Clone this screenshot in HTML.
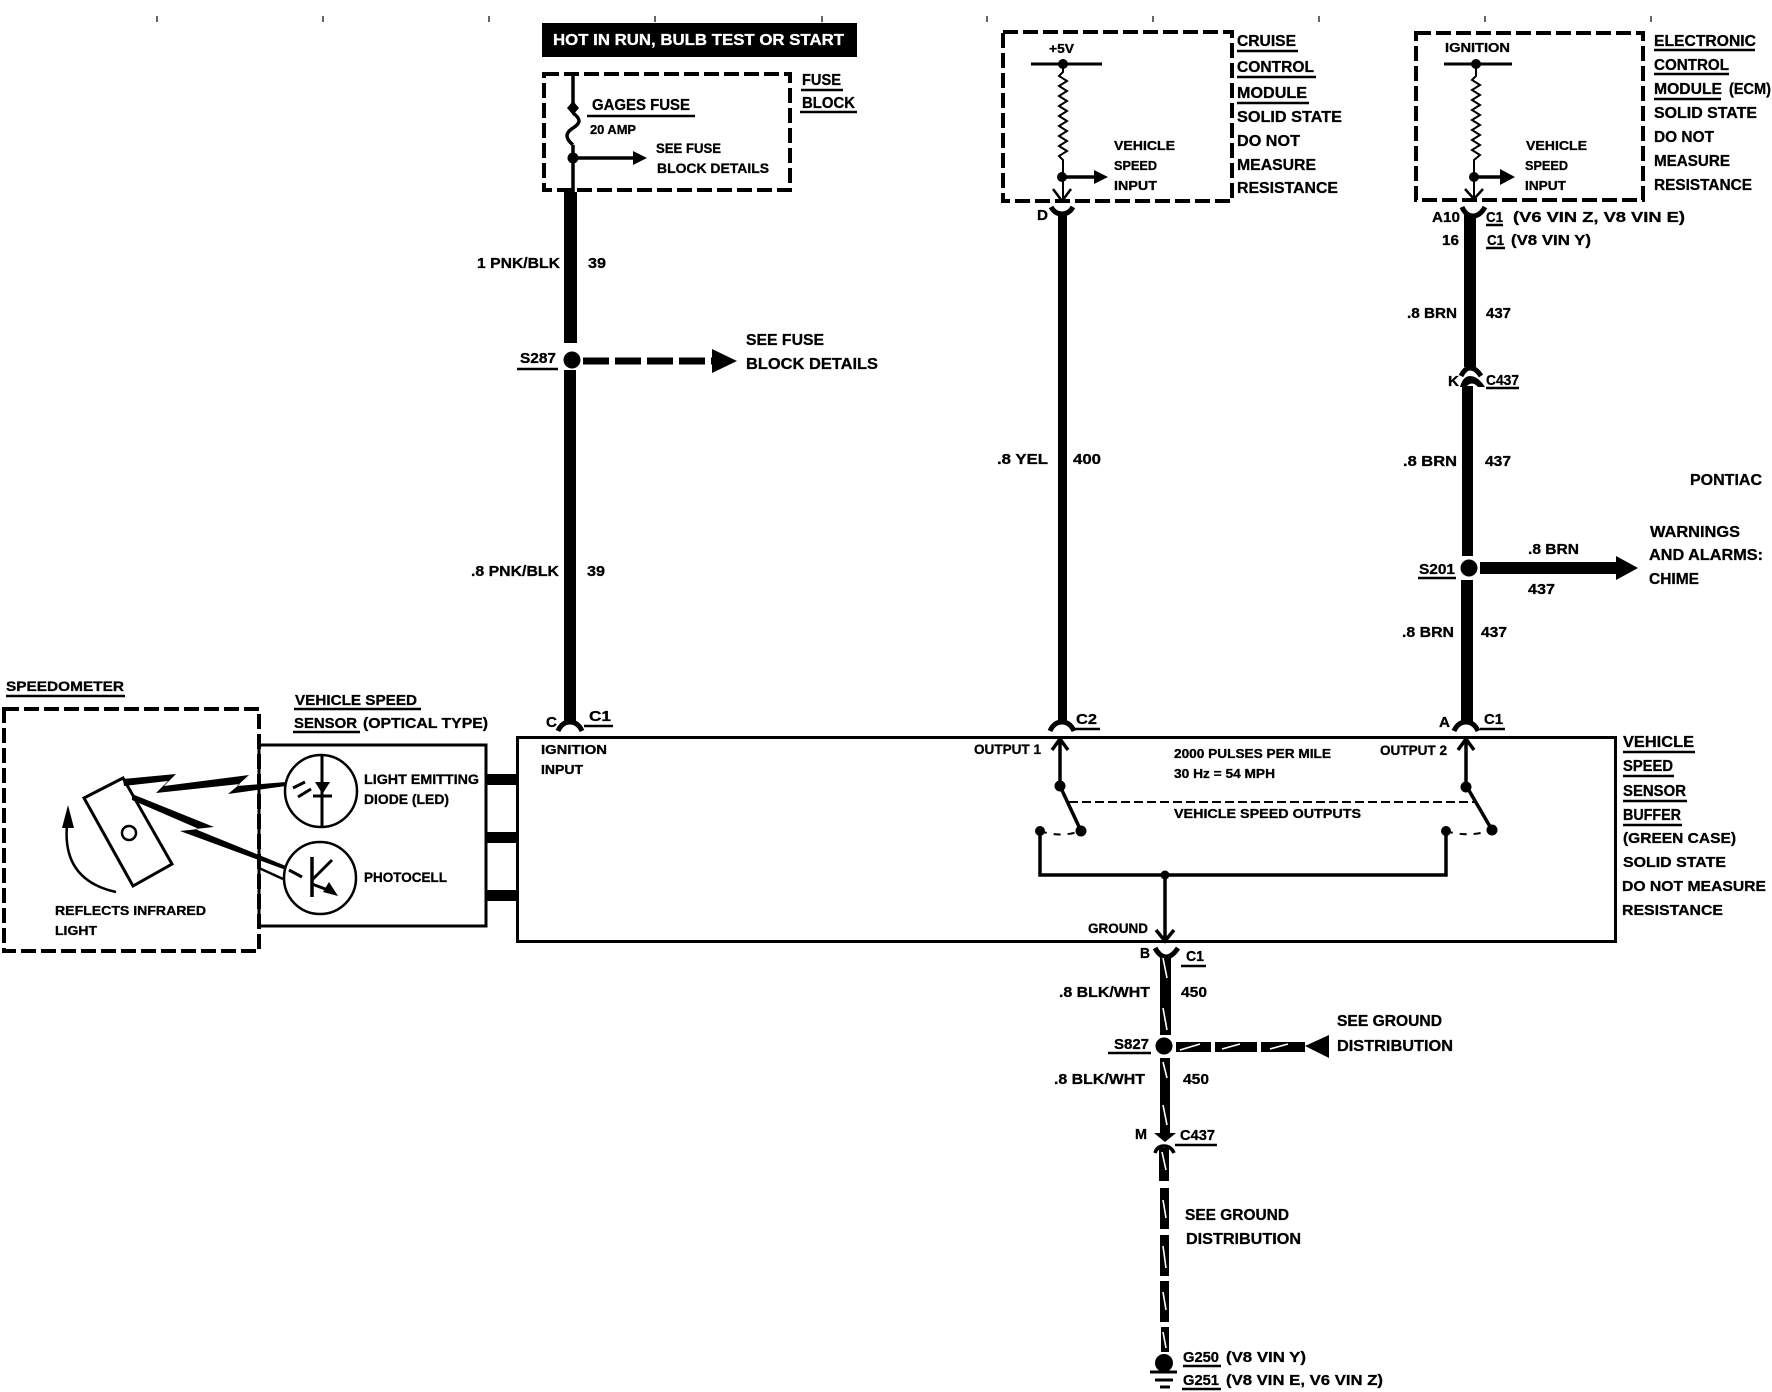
<!DOCTYPE html>
<html><head><meta charset="utf-8"><title>Vehicle Speed Sensor Diagram</title>
<style>
html,body{margin:0;padding:0;background:#fff}
svg{display:block}
text{font-family:"Liberation Sans",sans-serif;font-weight:bold;font-size:15px;fill:#000;stroke:#000;stroke-width:.3}
.s{font-size:14px}.t{font-size:13px}.l{font-size:16px}
.n{fill:none;stroke:#000;stroke-width:3.5}
.d{fill:none;stroke:#000;stroke-width:4;stroke-dasharray:15 5}
.u{stroke:#000;stroke-width:2.5}
.w{stroke:#fff;stroke-width:1.6}
.c{fill:none;stroke:#000;stroke-width:5}
</style></head><body>
<svg width="1772" height="1392" viewBox="0 0 1772 1392" xmlns="http://www.w3.org/2000/svg">
<rect width="1772" height="1392" fill="#fff"/>
<!-- ticks -->
<g stroke="#000" stroke-width="1.2"><path d="M157 16v6M323 16v6M489 16v6M655 16v6M822 16v6M987 16v6M1153 16v6M1319 16v6M1485 16v6M1651 16v6"/></g>

<!-- hot bar -->
<rect x="542" y="23" width="315" height="34" fill="#000"/>
<text x="553" y="45" textLength="291" lengthAdjust="spacingAndGlyphs" style="fill:#fff;stroke:#fff;font-size:16px">HOT IN RUN, BULB TEST OR START</text>

<!-- fuse block -->
<rect class="d" x="544" y="74" width="246" height="116"/>
<path class="n" d="M573 75V106M573 145V192"/>
<path d="M573 101l6 7-6 7-6-7z"/>
<path class="n" d="M573 113c8 6 8 10 0 15s-8 10 0 17" stroke-width="2.5"/>
<circle cx="573" cy="158" r="5.5"/>
<path class="n" d="M573 158H635"/><path d="M633 151l14 7-14 7z"/>
<text class="l" x="592" y="110" textLength="98" lengthAdjust="spacingAndGlyphs">GAGES FUSE</text>
<line class="u" x1="587" y1="116" x2="695" y2="116"/>
<text class="t" x="590" y="134" textLength="46" lengthAdjust="spacingAndGlyphs">20 AMP</text>
<text class="s" x="656" y="153" textLength="65" lengthAdjust="spacingAndGlyphs">SEE FUSE</text>
<text class="s" x="657" y="173" textLength="112" lengthAdjust="spacingAndGlyphs">BLOCK DETAILS</text>
<text class="l" x="802" y="85" textLength="39" lengthAdjust="spacingAndGlyphs">FUSE</text>
<line class="u" x1="801" y1="90" x2="843" y2="90"/>
<text class="l" x="802" y="108" textLength="53" lengthAdjust="spacingAndGlyphs">BLOCK</text>
<line class="u" x1="800" y1="112" x2="857" y2="112"/>

<!-- left wire -->
<rect x="564" y="192" width="13" height="151"/>
<rect x="564" y="370" width="12" height="353"/>
<circle cx="572" cy="360" r="8.5"/>
<text x="477" y="268" textLength="83" lengthAdjust="spacingAndGlyphs">1 PNK/BLK</text>
<text x="588" y="268" textLength="18" lengthAdjust="spacingAndGlyphs">39</text>
<text x="520" y="363" textLength="36" lengthAdjust="spacingAndGlyphs">S287</text>
<line class="u" x1="517" y1="369" x2="558" y2="369"/>
<path d="M583 361H712" stroke="#000" stroke-width="7" stroke-dasharray="26 6" fill="none"/>
<path d="M712 349l25 12-25 12z"/>
<text class="l" x="746" y="345" textLength="78" lengthAdjust="spacingAndGlyphs">SEE FUSE</text>
<text class="l" x="746" y="369" textLength="132" lengthAdjust="spacingAndGlyphs">BLOCK DETAILS</text>
<text x="471" y="576" textLength="88" lengthAdjust="spacingAndGlyphs">.8 PNK/BLK</text>
<text x="587" y="576" textLength="18" lengthAdjust="spacingAndGlyphs">39</text>
<text x="546" y="727" textLength="11" lengthAdjust="spacingAndGlyphs">C</text>
<text x="589" y="721" textLength="22" lengthAdjust="spacingAndGlyphs">C1</text>
<line class="u" x1="584" y1="726" x2="613" y2="726"/>
<path class="c" d="M558 731Q562 722 570 722Q578 722 582 731"/>

<!-- big box -->
<rect x="517.5" y="737.5" width="1098" height="204" fill="none" stroke="#000" stroke-width="3"/>
<text class="t" x="541" y="754" textLength="66" lengthAdjust="spacingAndGlyphs">IGNITION</text>
<text class="t" x="541" y="774" textLength="42" lengthAdjust="spacingAndGlyphs">INPUT</text>

<!-- sensor box -->
<rect x="259" y="745" width="227" height="181" fill="none" stroke="#000" stroke-width="3"/>
<rect x="486" y="774" width="31" height="11"/>
<rect x="486" y="832" width="31" height="11"/>
<rect x="486" y="890" width="31" height="11"/>
<text x="295" y="705" textLength="122" lengthAdjust="spacingAndGlyphs">VEHICLE SPEED</text>
<line class="u" x1="294" y1="709" x2="421" y2="709"/>
<text x="294" y="728" textLength="63" lengthAdjust="spacingAndGlyphs">SENSOR</text>
<line class="u" x1="293" y1="732" x2="360" y2="732"/>
<text x="363" y="728" textLength="125" lengthAdjust="spacingAndGlyphs">(OPTICAL TYPE)</text>
<circle cx="321" cy="791" r="36" fill="#fff" stroke="#000" stroke-width="2.5"/>
<circle cx="320" cy="878" r="36" fill="#fff" stroke="#000" stroke-width="2.5"/>
<path d="M322 756V826" stroke="#000" stroke-width="3"/>
<path d="M315 782h15l-7.500 12z"/>
<path d="M313 796H332" stroke="#000" stroke-width="3"/>
<path d="M293 788L305 782M298 797L311 789M289 870L302 877" stroke="#000" stroke-width="3"/>
<path d="M312 857V897" stroke="#000" stroke-width="3.500"/>
<path d="M312 880L332 860M312 884L328 890" stroke="#000" stroke-width="3"/>
<path d="M323 892l6-10 9 14z"/>
<text class="s" x="364" y="784" textLength="115" lengthAdjust="spacingAndGlyphs">LIGHT EMITTING</text>
<text class="s" x="364" y="804" textLength="85" lengthAdjust="spacingAndGlyphs">DIODE (LED)</text>
<text class="s" x="364" y="882" textLength="83" lengthAdjust="spacingAndGlyphs">PHOTOCELL</text>

<!-- speedometer -->
<rect class="d" x="4" y="709" width="255" height="242"/>
<text class="s" x="6" y="691" textLength="118" lengthAdjust="spacingAndGlyphs">SPEEDOMETER</text>
<line class="u" x1="6" y1="696" x2="125" y2="696"/>
<polygon points="84,798 123,778 172,864 133,886" fill="#fff" stroke="#000" stroke-width="3"/>
<circle cx="129" cy="833" r="7" fill="#fff" stroke="#000" stroke-width="2.500"/>
<path class="c" d="M116 892Q62 880 67 825" style="stroke-width:2.500"/>
<path d="M68 805l6 23h-12z"/>
<polygon points="123,779 176,774 164,786 249,775 237,786 286,782 286,786 228,794 240,784 156,793 168,781 124,786"/>
<polygon points="132,794 214,827 195,829 286,866 286,870 180,831 199,829 132,800"/>
<path d="M259 868L283 879" stroke="#000" stroke-width="2.500"/>
<text class="t" x="55" y="915" textLength="151" lengthAdjust="spacingAndGlyphs">REFLECTS INFRARED</text>
<text class="t" x="55" y="935" textLength="42" lengthAdjust="spacingAndGlyphs">LIGHT</text>

<!-- cruise module -->
<rect class="d" x="1003" y="32" width="229" height="169"/>
<text class="t" x="1049" y="53" textLength="25" lengthAdjust="spacingAndGlyphs">+5V</text>
<path d="M1031 64H1102" stroke="#000" stroke-width="3"/>
<circle cx="1063" cy="64" r="5"/>
<path d="M1063 66V72L1059 76L1067 81L1059 86L1067 91L1059 96L1067 101L1059 106L1067 111L1059 116L1067 121L1059 126L1067 131L1059 136L1067 141L1059 146L1067 151L1059 156L1063 160V199" fill="none" stroke="#000" stroke-width="2"/>
<circle cx="1062" cy="177" r="5"/>
<path class="n" d="M1062 177H1096"/><path d="M1094 170l14 7-14 7z"/>
<path class="c" d="M1053 189L1062 201L1071 189" style="stroke-width:2.500"/>
<text class="t" x="1114" y="150" textLength="61" lengthAdjust="spacingAndGlyphs">VEHICLE</text>
<text class="t" x="1114" y="170" textLength="43" lengthAdjust="spacingAndGlyphs">SPEED</text>
<text class="t" x="1114" y="190" textLength="43" lengthAdjust="spacingAndGlyphs">INPUT</text>
<text class="l" x="1237" y="46" textLength="59" lengthAdjust="spacingAndGlyphs">CRUISE</text>
<line class="u" x1="1237" y1="51" x2="1298" y2="51"/>
<text class="l" x="1237" y="72" textLength="77" lengthAdjust="spacingAndGlyphs">CONTROL</text>
<line class="u" x1="1237" y1="77" x2="1316" y2="77"/>
<text class="l" x="1237" y="98" textLength="70" lengthAdjust="spacingAndGlyphs">MODULE</text>
<line class="u" x1="1237" y1="103" x2="1309" y2="103"/>
<text class="l" x="1237" y="122" textLength="105" lengthAdjust="spacingAndGlyphs">SOLID STATE</text>
<text class="l" x="1237" y="146" textLength="63" lengthAdjust="spacingAndGlyphs">DO NOT</text>
<text class="l" x="1237" y="170" textLength="79" lengthAdjust="spacingAndGlyphs">MEASURE</text>
<text class="l" x="1237" y="193" textLength="101" lengthAdjust="spacingAndGlyphs">RESISTANCE</text>

<!-- yellow wire -->
<rect x="1058" y="212" width="9" height="510"/>
<path class="c" d="M1051 207Q1055 214 1062 214Q1069 214 1073 207"/>
<text x="1037" y="220" textLength="11" lengthAdjust="spacingAndGlyphs">D</text>
<text x="997" y="464" textLength="51" lengthAdjust="spacingAndGlyphs">.8 YEL</text>
<text x="1073" y="464" textLength="28" lengthAdjust="spacingAndGlyphs">400</text>
<path class="c" d="M1050 731Q1054 722 1062 722Q1070 722 1074 731"/>
<text x="1076" y="724" textLength="21" lengthAdjust="spacingAndGlyphs">C2</text>
<line class="u" x1="1073" y1="729" x2="1100" y2="729"/>

<!-- ECM -->
<rect class="d" x="1416" y="33" width="227" height="167"/>
<text class="t" x="1445" y="52" textLength="65" lengthAdjust="spacingAndGlyphs">IGNITION</text>
<path d="M1444 64H1512" stroke="#000" stroke-width="3"/>
<circle cx="1476" cy="64" r="5"/>
<path d="M1476 66V76L1472 80L1480 85L1472 90L1480 95L1472 100L1480 105L1472 110L1480 115L1472 120L1480 125L1472 130L1480 135L1472 140L1480 145L1472 150L1480 155L1474 160V198" fill="none" stroke="#000" stroke-width="2"/>
<circle cx="1474" cy="177" r="5"/>
<path class="n" d="M1474 177H1502"/><path d="M1500 169l15 8-15 8z"/>
<path class="c" d="M1465 189L1474 199L1483 189" style="stroke-width:2.500"/>
<text class="t" x="1526" y="150" textLength="61" lengthAdjust="spacingAndGlyphs">VEHICLE</text>
<text class="t" x="1525" y="170" textLength="43" lengthAdjust="spacingAndGlyphs">SPEED</text>
<text class="t" x="1525" y="190" textLength="41" lengthAdjust="spacingAndGlyphs">INPUT</text>
<rect x="1464" y="214" width="12" height="153"/>
<path class="c" d="M1462 207Q1466 216 1473 216Q1480 216 1485 207"/>
<text x="1432" y="222" textLength="28" lengthAdjust="spacingAndGlyphs">A10</text>
<text x="1486" y="222" textLength="17" lengthAdjust="spacingAndGlyphs">C1</text>
<line class="u" x1="1486" y1="225" x2="1503" y2="225"/>
<text x="1513" y="222" textLength="172" lengthAdjust="spacingAndGlyphs">(V6 VIN Z, V8 VIN E)</text>
<text x="1442" y="245" textLength="17" lengthAdjust="spacingAndGlyphs">16</text>
<text x="1487" y="245" textLength="17" lengthAdjust="spacingAndGlyphs">C1</text>
<line class="u" x1="1486" y1="248" x2="1505" y2="248"/>
<text x="1511" y="245" textLength="80" lengthAdjust="spacingAndGlyphs">(V8 VIN Y)</text>
<text x="1407" y="318" textLength="50" lengthAdjust="spacingAndGlyphs">.8 BRN</text>
<text x="1486" y="318" textLength="25" lengthAdjust="spacingAndGlyphs">437</text>
<path class="c" d="M1461 376Q1465 368 1470 368Q1476 368 1481 376"/>
<path d="M1460 387Q1463 376 1470 376Q1478 376 1485 387L1478 387Q1472 380 1466 387z"/>
<text x="1448" y="386" textLength="11" lengthAdjust="spacingAndGlyphs">K</text>
<text x="1486" y="385" textLength="33" lengthAdjust="spacingAndGlyphs">C437</text>
<line class="u" x1="1486" y1="388" x2="1519" y2="388"/>
<text class="l" x="1654" y="46" textLength="102" lengthAdjust="spacingAndGlyphs">ELECTRONIC</text>
<line class="u" x1="1654" y1="50" x2="1755" y2="50"/>
<text class="l" x="1654" y="70" textLength="75" lengthAdjust="spacingAndGlyphs">CONTROL</text>
<line class="u" x1="1654" y1="74" x2="1729" y2="74"/>
<text class="l" x="1654" y="94" textLength="68" lengthAdjust="spacingAndGlyphs">MODULE</text>
<line class="u" x1="1654" y1="99" x2="1721" y2="99"/>
<text class="l" x="1729" y="94" textLength="42" lengthAdjust="spacingAndGlyphs">(ECM)</text>
<text class="l" x="1654" y="118" textLength="103" lengthAdjust="spacingAndGlyphs">SOLID STATE</text>
<text class="l" x="1654" y="142" textLength="60" lengthAdjust="spacingAndGlyphs">DO NOT</text>
<text class="l" x="1654" y="166" textLength="76" lengthAdjust="spacingAndGlyphs">MEASURE</text>
<text class="l" x="1654" y="190" textLength="98" lengthAdjust="spacingAndGlyphs">RESISTANCE</text>

<text class="l" x="1690" y="485" textLength="72" lengthAdjust="spacingAndGlyphs">PONTIAC</text>

<!-- brown wire lower -->
<rect x="1462" y="386" width="11" height="170"/>
<rect x="1461" y="580" width="12" height="143"/>
<circle cx="1469" cy="568" r="8.500"/>
<text x="1403" y="466" textLength="54" lengthAdjust="spacingAndGlyphs">.8 BRN</text>
<text x="1485" y="466" textLength="26" lengthAdjust="spacingAndGlyphs">437</text>
<text x="1419" y="574" textLength="36" lengthAdjust="spacingAndGlyphs">S201</text>
<line class="u" x1="1418" y1="578" x2="1456" y2="578"/>
<rect x="1480" y="562" width="136" height="12"/>
<path d="M1616 556l22 12-22 12z"/>
<text x="1528" y="554" textLength="51" lengthAdjust="spacingAndGlyphs">.8 BRN</text>
<text x="1528" y="594" textLength="27" lengthAdjust="spacingAndGlyphs">437</text>
<text class="l" x="1650" y="537" textLength="90" lengthAdjust="spacingAndGlyphs">WARNINGS</text>
<text class="l" x="1649" y="560" textLength="114" lengthAdjust="spacingAndGlyphs">AND ALARMS:</text>
<text class="l" x="1649" y="584" textLength="50" lengthAdjust="spacingAndGlyphs">CHIME</text>
<text x="1402" y="637" textLength="52" lengthAdjust="spacingAndGlyphs">.8 BRN</text>
<text x="1481" y="637" textLength="26" lengthAdjust="spacingAndGlyphs">437</text>
<text x="1439" y="727" textLength="11" lengthAdjust="spacingAndGlyphs">A</text>
<text x="1484" y="724" textLength="19" lengthAdjust="spacingAndGlyphs">C1</text>
<line class="u" x1="1480" y1="729" x2="1505" y2="729"/>
<path class="c" d="M1454 731Q1458 722 1466 722Q1474 722 1478 731"/>

<!-- buffer labels -->
<text class="l" x="1623" y="747" textLength="71" lengthAdjust="spacingAndGlyphs">VEHICLE</text>
<line class="u" x1="1623" y1="752" x2="1695" y2="752"/>
<text class="l" x="1623" y="771" textLength="50" lengthAdjust="spacingAndGlyphs">SPEED</text>
<line class="u" x1="1623" y1="776" x2="1674" y2="776"/>
<text class="l" x="1623" y="796" textLength="63" lengthAdjust="spacingAndGlyphs">SENSOR</text>
<line class="u" x1="1623" y1="801" x2="1687" y2="801"/>
<text class="l" x="1623" y="820" textLength="58" lengthAdjust="spacingAndGlyphs">BUFFER</text>
<line class="u" x1="1623" y1="825" x2="1682" y2="825"/>
<text x="1623" y="843" textLength="113" lengthAdjust="spacingAndGlyphs">(GREEN CASE)</text>
<text x="1623" y="867" textLength="103" lengthAdjust="spacingAndGlyphs">SOLID STATE</text>
<text x="1622" y="891" textLength="144" lengthAdjust="spacingAndGlyphs">DO NOT MEASURE</text>
<text x="1622" y="915" textLength="101" lengthAdjust="spacingAndGlyphs">RESISTANCE</text>

<!-- internal buffer circuit -->
<text class="s" x="974" y="754" textLength="67" lengthAdjust="spacingAndGlyphs">OUTPUT 1</text>
<text class="s" x="1380" y="755" textLength="67" lengthAdjust="spacingAndGlyphs">OUTPUT 2</text>
<text class="t" x="1174" y="758" textLength="157" lengthAdjust="spacingAndGlyphs">2000 PULSES PER MILE</text>
<text class="t" x="1174" y="778" textLength="101" lengthAdjust="spacingAndGlyphs">30 Hz = 54 MPH</text>
<text class="t" x="1174" y="818" textLength="187" lengthAdjust="spacingAndGlyphs">VEHICLE SPEED OUTPUTS</text>
<path class="n" d="M1060 741V786M1466 741V787M1052 750L1060 739L1068 750M1458 750L1466 739L1474 750" stroke-width="3"/>
<circle cx="1060" cy="786" r="5.500"/><circle cx="1466" cy="787" r="5.500"/>
<path class="n" d="M1060 786L1081 831M1467 787L1492 830" stroke-width="3"/>
<circle cx="1081" cy="831" r="5.500"/><circle cx="1492" cy="830" r="5.500"/>
<circle cx="1040" cy="831" r="5"/><circle cx="1446" cy="831" r="5"/>
<path d="M1069 802H1477" stroke="#000" stroke-width="2" stroke-dasharray="9 4" fill="none"/>
<path d="M1040 831Q1060 838 1081 831M1446 831Q1468 838 1492 830" fill="none" stroke="#000" stroke-width="2" stroke-dasharray="7 7"/>
<path class="n" d="M1040 831V875H1446V831M1165 875V940"/>
<circle cx="1165" cy="875" r="4.500"/>
<path class="n" d="M1156 930L1165 941L1174 930" stroke-width="3"/>
<text class="s" x="1088" y="933" textLength="60" lengthAdjust="spacingAndGlyphs">GROUND</text>

<!-- ground wire -->
<path class="c" d="M1155 948Q1160 957 1166 957Q1172 957 1178 948"/>
<rect x="1160" y="955" width="11" height="80"/>
<rect x="1160" y="1058" width="10" height="76"/>
<path d="M1154 1133h22l-11 9z"/>
<path class="c" d="M1155 1153Q1157 1146 1164 1146Q1171 1146 1174 1153" style="stroke-width:3.500"/>
<rect x="1159" y="1148" width="10" height="33"/>
<rect x="1160" y="1188" width="9" height="41"/>
<rect x="1160" y="1235" width="9" height="41"/>
<rect x="1160" y="1281" width="9" height="41"/>
<rect x="1161" y="1327" width="8" height="25"/>
<path class="w" d="M1163 958L1167 978M1163 1008L1167 1030M1163 1062L1167 1078M1163 1105L1167 1125M1162 1152L1166 1170M1163 1200L1166 1218M1163 1246L1166 1268M1163 1292L1166 1310M1163 1332L1166 1348"/>
<circle cx="1164" cy="1046" r="8.500"/>
<rect x="1176" y="1042" width="35" height="10"/><rect x="1215" y="1042" width="42" height="10"/><rect x="1261" y="1042" width="44" height="10"/>
<path d="M1305 1046l24-11v23z"/>
<path class="w" d="M1180 1050L1200 1044M1222 1049L1240 1044M1270 1049L1288 1044"/>
<text x="1140" y="958" textLength="10" lengthAdjust="spacingAndGlyphs">B</text>
<text x="1186" y="961" textLength="18" lengthAdjust="spacingAndGlyphs">C1</text>
<line class="u" x1="1181" y1="966" x2="1206" y2="966"/>
<text x="1059" y="997" textLength="91" lengthAdjust="spacingAndGlyphs">.8 BLK/WHT</text>
<text x="1181" y="997" textLength="26" lengthAdjust="spacingAndGlyphs">450</text>
<text x="1114" y="1049" textLength="35" lengthAdjust="spacingAndGlyphs">S827</text>
<line class="u" x1="1108" y1="1053" x2="1151" y2="1053"/>
<text class="l" x="1337" y="1026" textLength="105" lengthAdjust="spacingAndGlyphs">SEE GROUND</text>
<text class="l" x="1337" y="1051" textLength="116" lengthAdjust="spacingAndGlyphs">DISTRIBUTION</text>
<text x="1054" y="1084" textLength="91" lengthAdjust="spacingAndGlyphs">.8 BLK/WHT</text>
<text x="1183" y="1084" textLength="26" lengthAdjust="spacingAndGlyphs">450</text>
<text x="1135" y="1139" textLength="12" lengthAdjust="spacingAndGlyphs">M</text>
<text x="1180" y="1140" textLength="35" lengthAdjust="spacingAndGlyphs">C437</text>
<line class="u" x1="1175" y1="1145" x2="1217" y2="1145"/>
<text class="l" x="1185" y="1220" textLength="104" lengthAdjust="spacingAndGlyphs">SEE GROUND</text>
<text class="l" x="1186" y="1244" textLength="115" lengthAdjust="spacingAndGlyphs">DISTRIBUTION</text>
<circle cx="1164" cy="1363" r="9"/>
<path d="M1150 1372H1177M1155 1380H1173M1160 1387H1170" stroke="#000" stroke-width="3"/>
<text x="1183" y="1362" textLength="36" lengthAdjust="spacingAndGlyphs">G250</text>
<line class="u" x1="1183" y1="1366" x2="1221" y2="1366"/>
<text x="1226" y="1362" textLength="80" lengthAdjust="spacingAndGlyphs">(V8 VIN Y)</text>
<text x="1183" y="1385" textLength="36" lengthAdjust="spacingAndGlyphs">G251</text>
<line class="u" x1="1182" y1="1389" x2="1221" y2="1389"/>
<text x="1226" y="1385" textLength="157" lengthAdjust="spacingAndGlyphs">(V8 VIN E, V6 VIN Z)</text>
</svg>
</body></html>
